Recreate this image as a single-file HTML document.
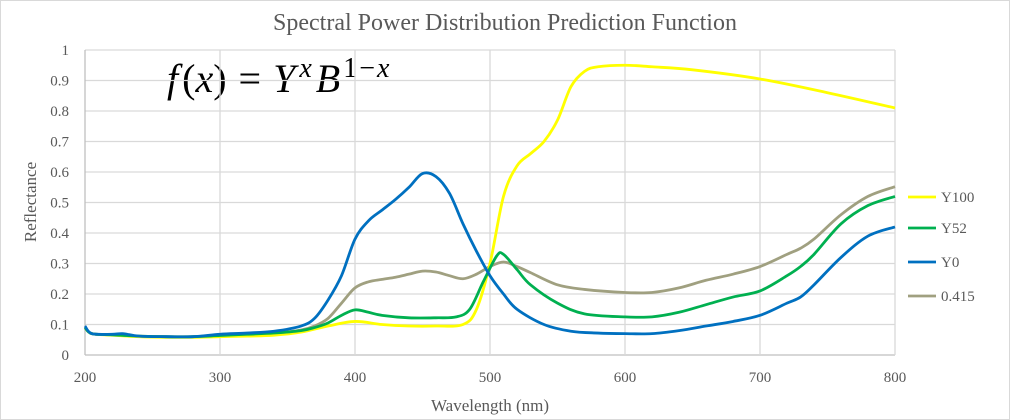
<!DOCTYPE html>
<html><head><meta charset="utf-8"><style>
body{margin:0;background:#fff}
svg{display:block;font-family:"Liberation Serif",serif}
</style></head><body>
<svg width="1010" height="420">
<rect x="0.5" y="0.5" width="1009" height="419" fill="#fff" stroke="#d9d9d9"/>
<text x="505" y="30" text-anchor="middle" font-size="24" fill="#595959">Spectral Power Distribution Prediction Function</text>
<text x="167" y="92" font-size="40" fill="#000"><tspan font-style="italic">f</tspan><tspan dx="4">(</tspan><tspan font-style="italic">x</tspan>)<tspan dx="12">=</tspan><tspan dx="12" font-style="italic">Y</tspan><tspan font-size="28" dy="-15" dx="4" font-style="italic">x</tspan><tspan dy="15" dx="4" font-style="italic">B</tspan><tspan font-size="28" dy="-15" dx="3" letter-spacing="2">1−<tspan font-style="italic">x</tspan></tspan></text>
<g id="grid"></g><g id="series"></g><g id="legend"></g>
<text x="490" y="411" text-anchor="middle" font-size="17" fill="#595959">Wavelength (nm)</text>
<text transform="translate(36,202) rotate(-90)" text-anchor="middle" font-size="17" fill="#595959">Reflectance</text>
</svg>
<script>
const xTicks=[200,300,400,500,600,700,800];
const yTicks=[0,0.1,0.2,0.3,0.4,0.5,0.6,0.7,0.8,0.9,1];
const yTickLabels=["0","0.1","0.2","0.3","0.4","0.5","0.6","0.7","0.8","0.9","1"];
const seriesNames=["Y100","Y52","Y0","0.415"];
const seriesColors=["#ffff00","#00b050","#0070c0","#a0a080"];
const y100X=[200,205,220,240,260,280,300,320,340,360,380,400,420,440,460,480,490,500,510,520,530,540,550,560,570,580,600,620,650,700,750,800];
const y100V=[0.09,0.07,0.065,0.06,0.058,0.058,0.06,0.062,0.065,0.075,0.095,0.11,0.10,0.095,0.095,0.10,0.15,0.30,0.52,0.62,0.66,0.70,0.77,0.88,0.93,0.945,0.95,0.945,0.935,0.905,0.86,0.81];
const y52X=[200,205,220,240,260,280,300,320,340,360,370,380,390,400,410,420,440,460,475,485,495,505,510,520,530,550,570,600,620,640,660,680,700,720,730,740,760,780,800];
const y52V=[0.09,0.07,0.066,0.062,0.06,0.06,0.064,0.068,0.072,0.08,0.09,0.105,0.13,0.148,0.14,0.13,0.122,0.122,0.125,0.15,0.24,0.325,0.33,0.28,0.23,0.17,0.135,0.125,0.125,0.14,0.165,0.19,0.21,0.26,0.29,0.33,0.43,0.49,0.52];
const y0X=[200,205,220,228,240,260,280,300,320,340,360,370,380,390,400,410,420,430,440,450,460,470,480,490,500,510,520,540,560,580,600,620,640,660,680,700,720,730,740,760,780,800];
const y0V=[0.095,0.07,0.068,0.07,0.062,0.06,0.06,0.068,0.072,0.078,0.095,0.12,0.18,0.26,0.38,0.44,0.475,0.51,0.55,0.595,0.585,0.53,0.43,0.34,0.26,0.20,0.15,0.10,0.078,0.072,0.070,0.07,0.08,0.095,0.11,0.13,0.17,0.19,0.23,0.32,0.39,0.42];
const mixX=[200,205,220,240,260,280,300,320,340,360,370,380,390,400,410,420,430,440,450,460,470,480,490,500,510,520,530,550,570,600,620,640,660,680,700,720,730,740,760,780,800];
const mixV=[0.09,0.07,0.066,0.062,0.06,0.06,0.064,0.068,0.072,0.082,0.095,0.12,0.17,0.22,0.24,0.248,0.255,0.265,0.275,0.272,0.26,0.25,0.265,0.29,0.305,0.29,0.27,0.23,0.215,0.205,0.205,0.22,0.245,0.265,0.29,0.33,0.35,0.38,0.46,0.52,0.552];
const X0=85,X1=895,Y0=355,Y1=50;
const sx=v=>X0+(v-200)/600*(X1-X0), sy=v=>Y0-v*(Y0-Y1);
const NS="http://www.w3.org/2000/svg";
function mk(t,a,p){const e=document.createElementNS(NS,t);for(const k in a)e.setAttribute(k,a[k]);p.appendChild(e);return e;}
const grid=document.getElementById('grid');
yTicks.forEach((t,i)=>{
 const l=mk('line',{x1:X0,x2:X1,y1:sy(t),y2:sy(t),stroke:t===0?'#bfbfbf':'#d9d9d9','stroke-width':1.3},grid);
 
 
 const tx=mk('text',{x:X0-16,y:sy(t)+5,'text-anchor':'end','font-size':15,fill:'#595959'},grid);tx.textContent=yTickLabels[i];
 
 
});
xTicks.forEach(t=>{
 const l=mk('line',{x1:sx(t),x2:sx(t),y1:Y1,y2:Y0,stroke:t===200?'#bfbfbf':'#d9d9d9','stroke-width':1.3},grid);
 
 
 const tx=mk('text',{x:sx(t),y:Y0+27,'text-anchor':'middle','font-size':15,fill:'#595959'},grid);tx.textContent=t;
 
 
});
function path(xs,vs){const p=xs.map((x,i)=>[sx(x),sy(vs[i])]);let d=`M${p[0][0]},${p[0][1]}`;
 for(let i=0;i<p.length-1;i++){const a=p[i-1]||p[i],b=p[i],c=p[i+1],e=p[i+2]||c;
 d+=` C${b[0]+(c[0]-a[0])/6},${b[1]+(c[1]-a[1])/6} ${c[0]-(e[0]-b[0])/6},${c[1]-(e[1]-b[1])/6} ${c[0]},${c[1]}`;}return d;}
const ser=document.getElementById('series');
const data=[[y100X,y100V],[y52X,y52V],[y0X,y0V],[mixX,mixV]];
[3,0,1,2].forEach(i=>{const p=mk('path',{d:path(data[i][0],data[i][1]),fill:'none',stroke:seriesColors[i],'stroke-width':2.8},ser);
 
 });
const lg=document.getElementById('legend');
const lgY=[197,228,262,296];
seriesNames.forEach((n,i)=>{const g=mk('g',{},lg);
 
 
 mk('line',{x1:908,x2:936,y1:lgY[i],y2:lgY[i],stroke:seriesColors[i],'stroke-width':2.8},g);
 const t=mk('text',{x:941,y:lgY[i]+5,'font-size':15,fill:'#595959'},g);t.textContent=n;});
</script>
</body></html>
